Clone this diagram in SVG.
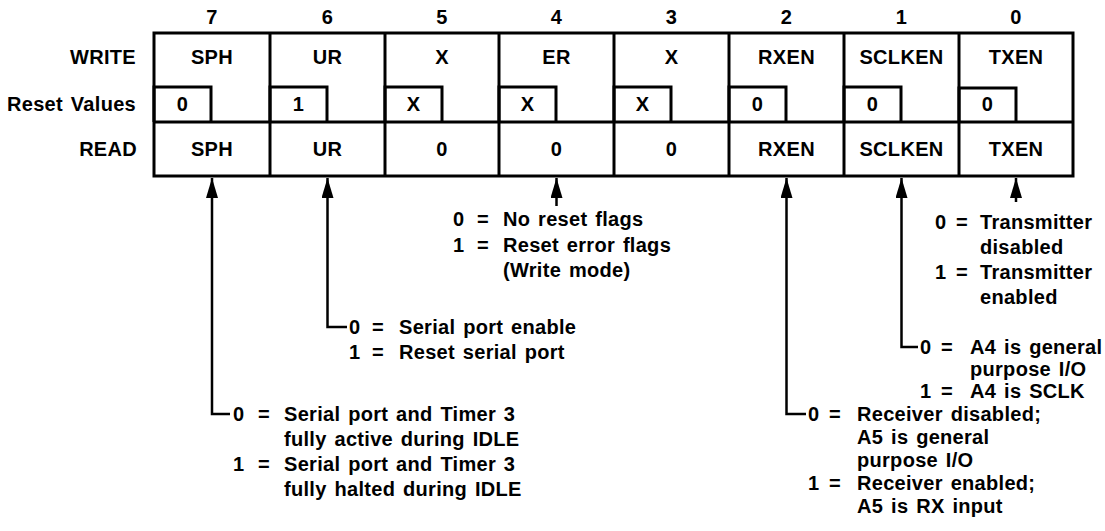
<svg xmlns="http://www.w3.org/2000/svg" width="1105" height="531" viewBox="0 0 1105 531">
<style>
text{font-family:"Liberation Sans",Arial,sans-serif;font-weight:bold;font-size:20px;fill:#000;letter-spacing:0.3px;word-spacing:2px}
.c{text-anchor:middle}
.r{text-anchor:end}
.box{fill:none;stroke:#000;stroke-width:3}
.ln{fill:none;stroke:#000;stroke-width:2.5}
.conn{fill:none;stroke:#000;stroke-width:2.5;marker-end:url(#ah)}
</style>
<defs>
<marker id="ah" viewBox="0 0 20 12" refX="20" refY="6" markerWidth="20" markerHeight="12" markerUnits="userSpaceOnUse" orient="auto">
<path d="M0,0 L20,6 L0,12 z" fill="#000"/>
</marker>
</defs>
<rect width="1105" height="531" fill="#fff"/>
<g id="labels">
<text class="r" x="136" y="64">WRITE</text>
<text class="r" x="136" y="111">Reset Values</text>
<text class="r" x="137" y="156">READ</text>
</g>
<g id="register">
<rect class="box" x="154" y="33" width="919" height="143"/>
<line class="box" x1="154" y1="122" x2="1073" y2="122"/>
</g>
<g id="bit7">
<text class="c" x="212" y="24">7</text>
<text class="c" x="212" y="64">SPH</text>
<path class="box" d="M154,122 V87 H211 V122"/>
<text class="c" x="182.5" y="111">0</text>
<text class="c" x="212" y="156">SPH</text>
</g>
<g id="bit6">
<line class="box" x1="270" y1="33" x2="270" y2="176"/>
<text class="c" x="327.5" y="24">6</text>
<text class="c" x="327.5" y="64">UR</text>
<path class="box" d="M270,122 V87 H327 V122"/>
<text class="c" x="298.5" y="111">1</text>
<text class="c" x="327.5" y="156">UR</text>
</g>
<g id="bit5">
<line class="box" x1="385" y1="33" x2="385" y2="176"/>
<text class="c" x="442" y="24">5</text>
<text class="c" x="442" y="64">X</text>
<path class="box" d="M385,122 V87 H442 V122"/>
<text class="c" x="413.5" y="111">X</text>
<text class="c" x="442" y="156">0</text>
</g>
<g id="bit4">
<line class="box" x1="499" y1="33" x2="499" y2="176"/>
<text class="c" x="556.5" y="24">4</text>
<text class="c" x="556.5" y="64">ER</text>
<path class="box" d="M499,122 V87 H556 V122"/>
<text class="c" x="527.5" y="111">X</text>
<text class="c" x="556.5" y="156">0</text>
</g>
<g id="bit3">
<line class="box" x1="614" y1="33" x2="614" y2="176"/>
<text class="c" x="671.5" y="24">3</text>
<text class="c" x="671.5" y="64">X</text>
<path class="box" d="M614,122 V87 H671 V122"/>
<text class="c" x="642.5" y="111">X</text>
<text class="c" x="671.5" y="156">0</text>
</g>
<g id="bit2">
<line class="box" x1="729" y1="33" x2="729" y2="176"/>
<text class="c" x="786.5" y="24">2</text>
<text class="c" x="786.5" y="64">RXEN</text>
<path class="box" d="M729,122 V87 H786 V122"/>
<text class="c" x="757.5" y="111">0</text>
<text class="c" x="786.5" y="156">RXEN</text>
</g>
<g id="bit1">
<line class="box" x1="844" y1="33" x2="844" y2="176"/>
<text class="c" x="901.5" y="24">1</text>
<text class="c" x="901.5" y="64">SCLKEN</text>
<path class="box" d="M844,122 V87 H901 V122"/>
<text class="c" x="872.5" y="111">0</text>
<text class="c" x="901.5" y="156">SCLKEN</text>
</g>
<g id="bit0">
<line class="box" x1="959" y1="33" x2="959" y2="176"/>
<text class="c" x="1016" y="24">0</text>
<text class="c" x="1016" y="64">TXEN</text>
<path class="box" d="M959,122 V88 H1016 V122"/>
<text class="c" x="987.5" y="111">0</text>
<text class="c" x="1016" y="156">TXEN</text>
</g>
<g id="connectors">
<path class="conn" d="M230,414 H212 V178"/>
<path class="conn" d="M347,327 H327.5 V178"/>
<path class="conn" d="M556.5,206 V178"/>
<path class="conn" d="M806,414 H786.5 V178"/>
<path class="conn" d="M918,347 H901.5 V178"/>
<path class="conn" d="M1016,202 V178"/>
</g>
<g id="note-sph">
<text x="233" y="421">0</text><text x="258" y="421">=</text><text x="284" y="421">Serial port and Timer 3</text>
<text x="284" y="446">fully active during IDLE</text>
<text x="233" y="471">1</text><text x="258" y="471">=</text><text x="284" y="471">Serial port and Timer 3</text>
<text x="284" y="496">fully halted during IDLE</text>
</g>
<g id="note-ur">
<text x="349" y="334">0</text><text x="372" y="334">=</text><text x="399" y="334">Serial port enable</text>
<text x="349" y="359">1</text><text x="372" y="359">=</text><text x="399" y="359">Reset serial port</text>
</g>
<g id="note-er">
<text x="453" y="226">0</text><text x="477" y="226">=</text><text x="503" y="226">No reset flags</text>
<text x="453" y="252">1</text><text x="477" y="252">=</text><text x="503" y="252">Reset error flags</text>
<text x="503" y="277">(Write mode)</text>
</g>
<g id="note-txen">
<text x="935" y="229">0</text><text x="956" y="229">=</text><text x="980" y="229">Transmitter</text>
<text x="980" y="254">disabled</text>
<text x="935" y="279">1</text><text x="956" y="279">=</text><text x="980" y="279">Transmitter</text>
<text x="980" y="304">enabled</text>
</g>
<g id="note-sclken">
<text x="920" y="354">0</text><text x="941" y="354">=</text><text x="970" y="354">A4 is general</text>
<text x="970" y="376">purpose I/O</text>
<text x="920" y="398">1</text><text x="941" y="398">=</text><text x="970" y="398">A4 is SCLK</text>
</g>
<g id="note-rxen">
<text x="808" y="421">0</text><text x="829" y="421">=</text><text x="857" y="421">Receiver disabled;</text>
<text x="857" y="444">A5 is general</text>
<text x="857" y="467">purpose I/O</text>
<text x="808" y="490">1</text><text x="829" y="490">=</text><text x="857" y="490">Receiver enabled;</text>
<text x="857" y="513">A5 is RX input</text>
</g>
</svg>
